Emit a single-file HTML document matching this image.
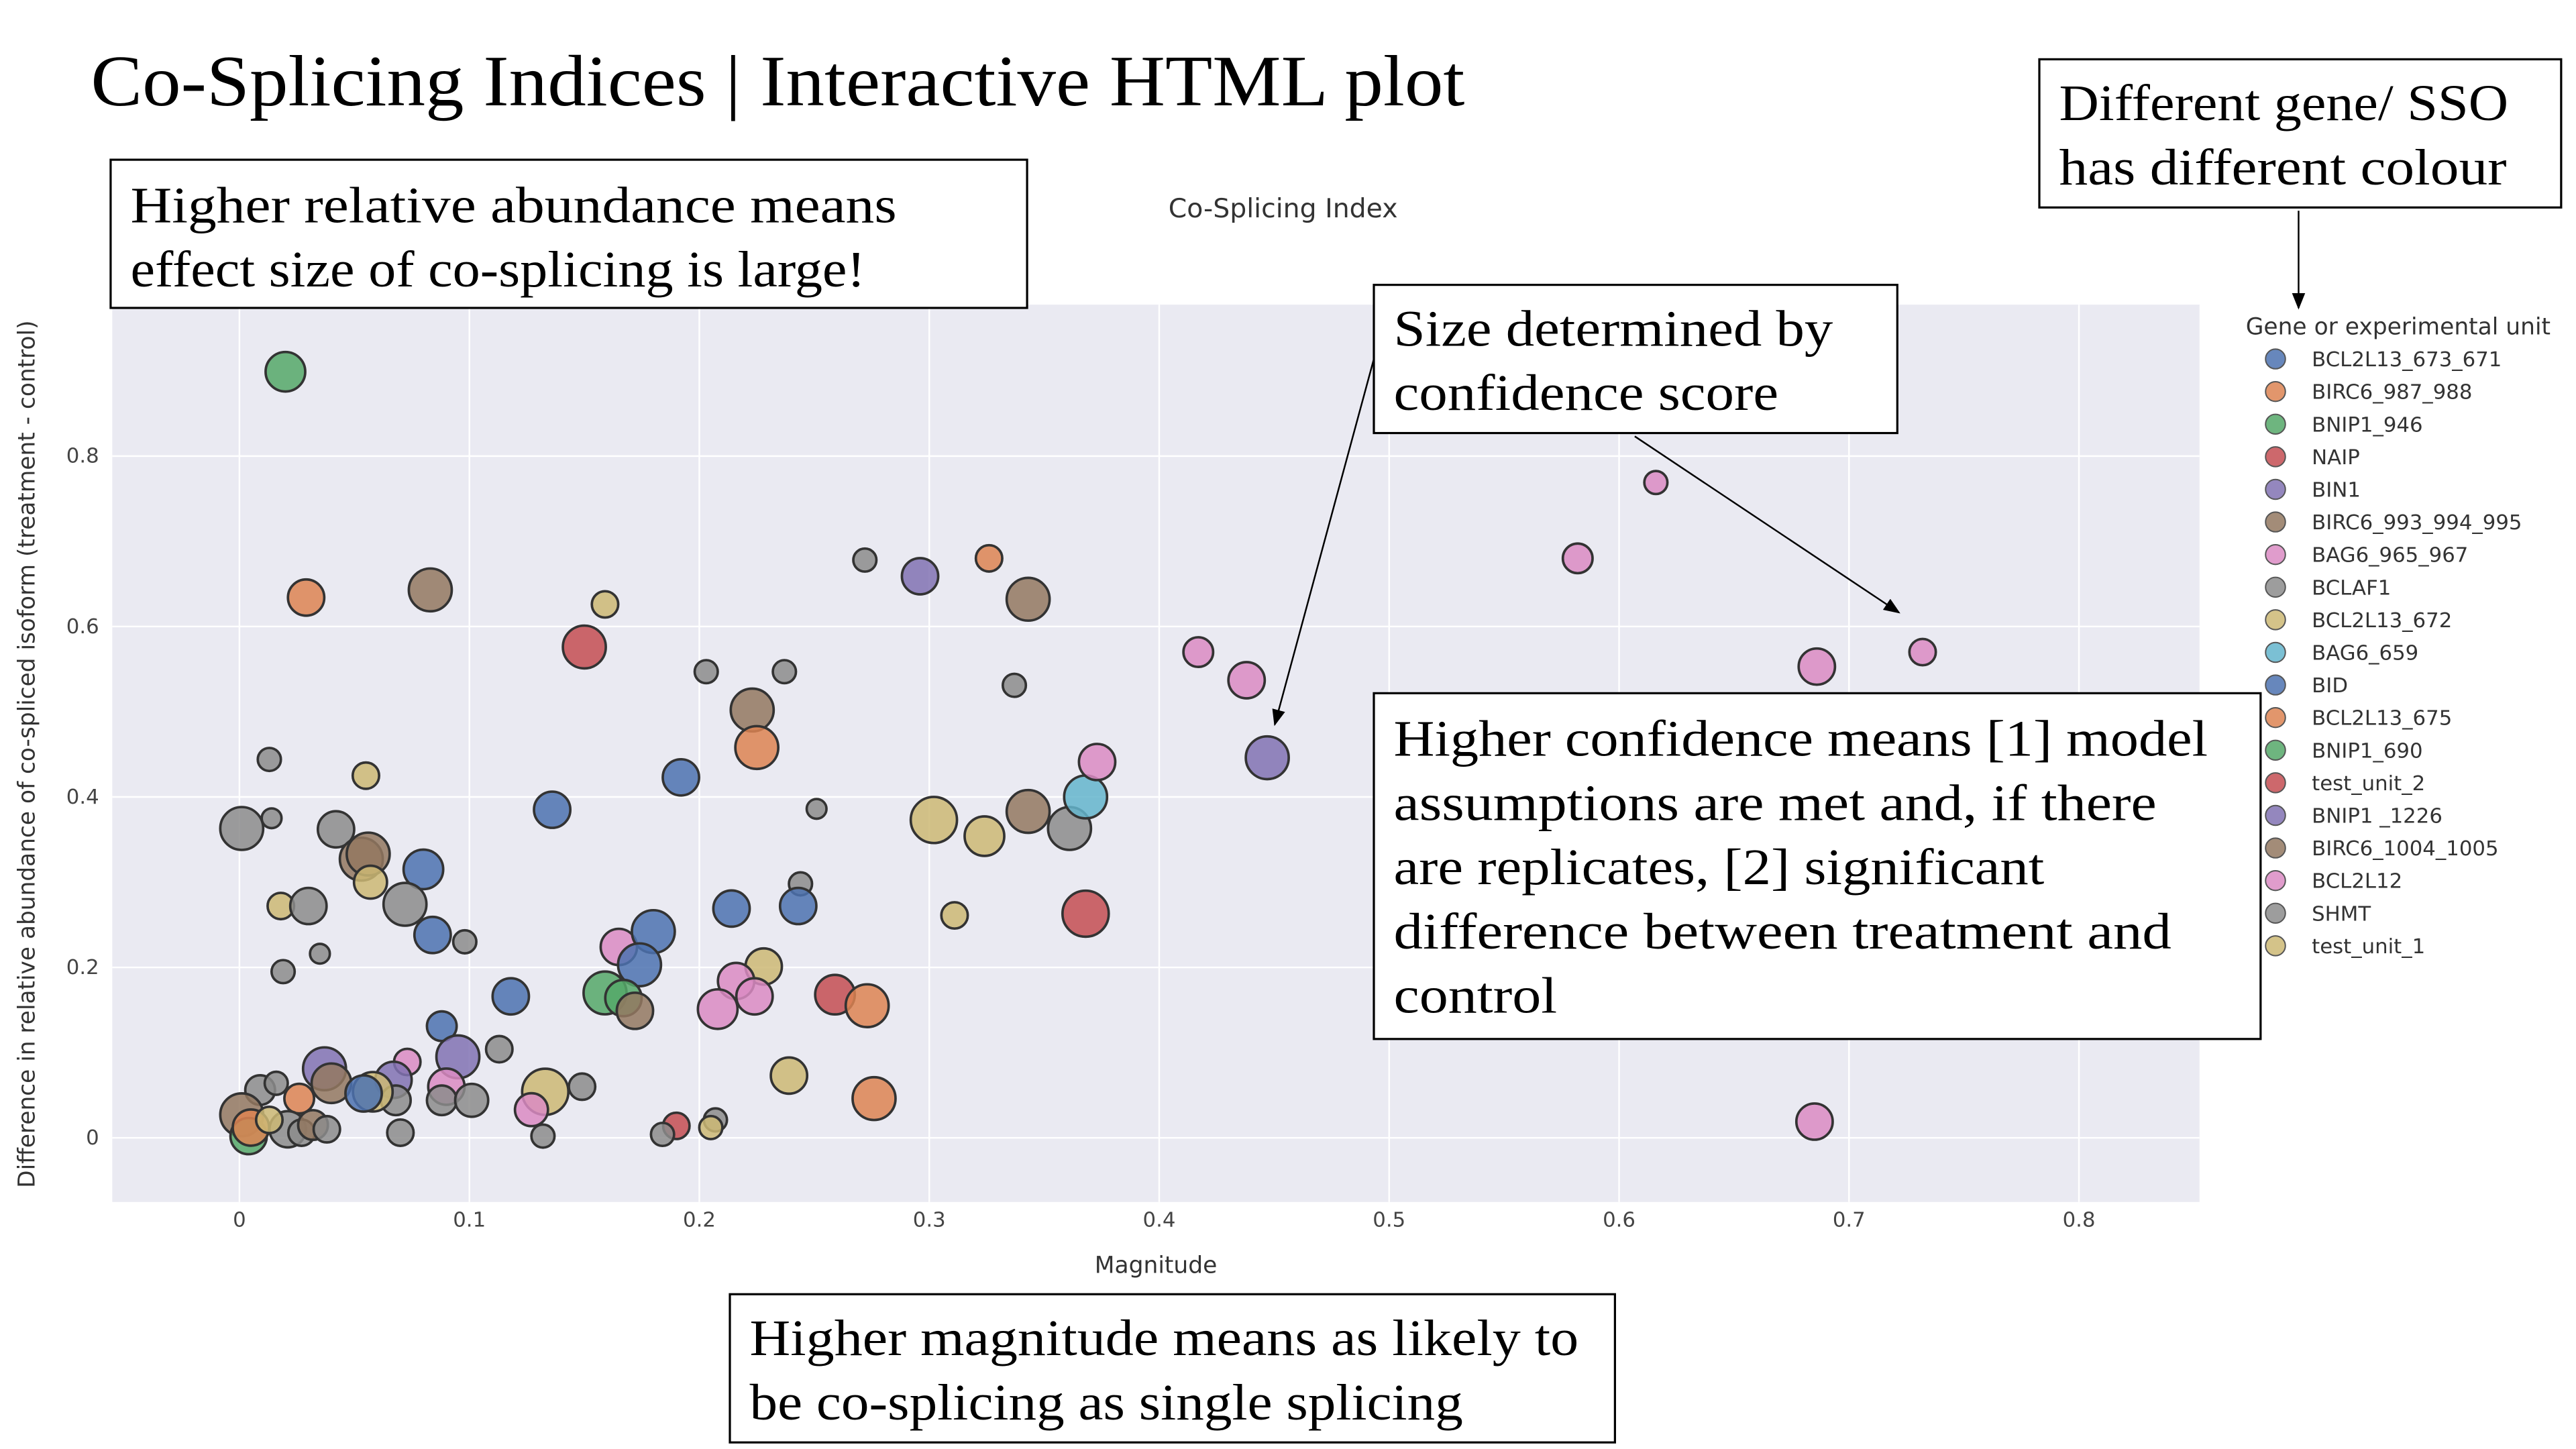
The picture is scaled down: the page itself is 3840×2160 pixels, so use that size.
<!DOCTYPE html>
<html><head><meta charset="utf-8"><style>
html,body{margin:0;padding:0;background:#fff;}
svg{display:block;}
.tk{font-family:"DejaVu Sans","Liberation Sans",sans-serif;font-size:12.5px;fill:#444;}
.serif{font-family:"Liberation Serif",serif;fill:#000;}
.lg{font-family:"DejaVu Sans","Liberation Sans",sans-serif;font-size:12.5px;fill:#333;}
</style></head><body>
<svg id="chart" width="3840" height="2160" viewBox="0 0 1560 880" preserveAspectRatio="none" xmlns="http://www.w3.org/2000/svg">
<defs><marker id="ah" markerWidth="10" markerHeight="10" refX="9" refY="5" orient="auto" markerUnits="userSpaceOnUse"><path d="M0,1 L10,5 L0,9 Z" fill="#000"/></marker></defs>
<text class="serif" x="55" y="64" font-size="44" textLength="832" lengthAdjust="spacingAndGlyphs">Co-Splicing Indices | Interactive HTML plot</text>
<text x="777" y="132" text-anchor="middle" font-family="DejaVu Sans, Liberation Sans, sans-serif" font-size="16" fill="#333">Co-Splicing Index</text>
<rect x="68" y="185" width="1264" height="545" fill="#EAEAF2"/>
<g id="grid"></g>
<g id="bubbles"></g>
<g id="xticks"></g>
<g id="yticks"></g>
<text x="700" y="773" text-anchor="middle" font-family="DejaVu Sans, Liberation Sans, sans-serif" font-size="14" fill="#333">Magnitude</text>
<text transform="translate(21,458) rotate(-90)" text-anchor="middle" font-family="DejaVu Sans, Liberation Sans, sans-serif" font-size="14" fill="#333">Difference in relative abundance of co-spliced isoform (treatment - control)</text>
<text x="1360" y="203" font-family="DejaVu Sans, Liberation Sans, sans-serif" font-size="14" fill="#333">Gene or experimental unit</text>
<g id="legend"></g>
<g>
<rect x="67" y="97" width="555" height="90" fill="#fff" stroke="#000" stroke-width="1.3"/>
<text class="serif" x="79" y="135" font-size="31" textLength="464" lengthAdjust="spacingAndGlyphs">Higher relative abundance means</text>
<text class="serif" x="79" y="174" font-size="31" textLength="445" lengthAdjust="spacingAndGlyphs">effect size of co-splicing is large!</text></g>
<g>
<rect x="1235" y="36" width="316" height="90" fill="#fff" stroke="#000" stroke-width="1.3"/>
<text class="serif" x="1247" y="73" font-size="31" textLength="272" lengthAdjust="spacingAndGlyphs">Different gene/ SSO</text>
<text class="serif" x="1247" y="112" font-size="31" textLength="271" lengthAdjust="spacingAndGlyphs">has different colour</text></g>
<line x1="1392" y1="128" x2="1392" y2="187" stroke="#000" stroke-width="1" marker-end="url(#ah)"/>
<g>
<rect x="832" y="173" width="317" height="90" fill="#fff" stroke="#000" stroke-width="1.3"/>
<text class="serif" x="844" y="210" font-size="31" textLength="266" lengthAdjust="spacingAndGlyphs">Size determined by</text>
<text class="serif" x="844" y="249" font-size="31" textLength="233" lengthAdjust="spacingAndGlyphs">confidence score</text></g>
<line x1="832" y1="218" x2="772" y2="440" stroke="#000" stroke-width="1" marker-end="url(#ah)"/>
<line x1="990" y1="265" x2="1150" y2="372" stroke="#000" stroke-width="1" marker-end="url(#ah)"/>
<g>
<rect x="832" y="421" width="537" height="210" fill="#fff" stroke="#000" stroke-width="1.3"/>
<text class="serif" x="844" y="459" font-size="31" textLength="493" lengthAdjust="spacingAndGlyphs">Higher confidence means [1] model</text>
<text class="serif" x="844" y="498" font-size="31" textLength="462" lengthAdjust="spacingAndGlyphs">assumptions are met and, if there</text>
<text class="serif" x="844" y="537" font-size="31" textLength="394" lengthAdjust="spacingAndGlyphs">are replicates, [2] significant</text>
<text class="serif" x="844" y="576" font-size="31" textLength="471" lengthAdjust="spacingAndGlyphs">difference between treatment and</text>
<text class="serif" x="844" y="615" font-size="31" textLength="99" lengthAdjust="spacingAndGlyphs">control</text></g>
<g>
<rect x="442" y="786" width="536" height="90" fill="#fff" stroke="#000" stroke-width="1.3"/>
<text class="serif" x="454" y="823" font-size="31" textLength="502" lengthAdjust="spacingAndGlyphs">Higher magnitude means as likely to</text>
<text class="serif" x="454" y="862" font-size="31" textLength="432" lengthAdjust="spacingAndGlyphs">be co-splicing as single splicing</text></g>
</svg>
<script>
const groups = ["BCL2L13_673_671","BIRC6_987_988","BNIP1_946","NAIP","BIN1","BIRC6_993_994_995","BAG6_965_967","BCLAF1","BCL2L13_672","BAG6_659","BID","BCL2L13_675","BNIP1_690","test_unit_2","BNIP1 _1226","BIRC6_1004_1005","BCL2L12","SHMT","test_unit_1"];
const palette = ["#4C72B0","#DD8452","#55A868","#C44E52","#8172B3","#937860","#DA8BC3","#8C8C8C","#CCB974","#64B5CD"];
const xTicks = [0,0.1,0.2,0.3,0.4,0.5,0.6,0.7,0.8];
const xTickLabels = ["0","0.1","0.2","0.3","0.4","0.5","0.6","0.7","0.8"];
const yTicks = [0,0.2,0.4,0.6,0.8];
const yTickLabels = ["0","0.2","0.4","0.6","0.8"];
const xs = [.020,.029,.083,.150,.159,.272,.296,.326,.343,.203,.237,.337,.223,.225,.192,.136,.055,.013,.014,.001,.042,.053,.056,.057,.080,.072,.018,.030,.084,.098,.035,.019,.165,.180,.174,.214,.244,.243,.251,.302,.324,.343,.361,.368,.373,.368,.311,.228,.216,.224,.208,.259,.273,.159,.167,.172,.118,.088,.095,.113,.073,.037,.040,.067,.068,.058,.054,.090,.088,.101,.133,.149,.127,.132,.190,.184,.207,.205,.239,.276,.009,.016,.001,.004,.005,.026,.021,.027,.032,.038,.013,.070,.447,.417,.438,.616,.582,.686,.732,.685];
const ys = [.899,.634,.643,.576,.626,.678,.659,.680,.632,.547,.547,.531,.502,.458,.423,.385,.425,.444,.375,.363,.362,.327,.333,.300,.315,.274,.272,.272,.238,.230,.216,.195,.224,.242,.203,.269,.298,.272,.386,.373,.354,.383,.363,.400,.441,.263,.261,.201,.184,.166,.151,.168,.155,.170,.164,.149,.166,.131,.095,.104,.089,.081,.064,.068,.044,.054,.052,.060,.044,.044,.054,.060,.033,.002,.014,.004,.021,.012,.073,.046,.056,.064,.027,.002,.012,.046,.010,.006,.015,.010,.021,.006,.446,.570,.537,.769,.680,.553,.570,.019];
const sizes = [12,11,13,13,8,7,11,8,13,7,7,7,13,13,11,11,8,7,6,13,11,13,13,10,12,13,8,11,11,7,6,7,11,13,13,11,7,11,6,14,12,13,13,13,11,14,8,11,11,11,12,12,13,13,11,11,11,9,13,8,8,13,12,11,9,12,11,11,9,10,14,8,10,7,8,7,7,7,11,13,9,7,13,11,11,9,11,8,9,8,8,8,13,9,11,7,9,11,8,11];
const colorIdx = [2,1,5,3,8,7,4,1,5,7,7,7,5,1,0,0,8,7,7,7,7,5,5,8,0,7,8,7,0,7,7,7,6,0,0,0,7,0,7,8,8,5,7,9,6,3,8,8,6,6,6,3,1,2,2,5,0,0,4,7,6,4,5,4,7,8,0,6,7,7,8,7,6,7,3,7,7,8,8,1,7,7,5,2,1,1,7,7,5,7,8,7,4,6,6,6,6,6,6,6];
const NS="http://www.w3.org/2000/svg";
const X0=68,X1=1332,Y0=185,Y1=730;
const xScale=v=>145+v*1392.5;
const yScale=v=>691-v*517.5;
const grid=document.getElementById('grid');
xTicks.forEach((t,i)=>{
  const l=document.createElementNS(NS,'line');
  
  
  l.setAttribute('x1',xScale(t));l.setAttribute('x2',xScale(t));l.setAttribute('y1',Y0);l.setAttribute('y2',Y1);
  l.setAttribute('stroke','#fff');l.setAttribute('stroke-width','1');grid.appendChild(l);
  const tx=document.createElementNS(NS,'text');
  
  
  tx.setAttribute('class','tk');tx.setAttribute('x',xScale(t));tx.setAttribute('y',745);tx.setAttribute('text-anchor','middle');
  tx.textContent=xTickLabels[i];document.getElementById('xticks').appendChild(tx);
});
yTicks.forEach((t,i)=>{
  const l=document.createElementNS(NS,'line');
  
  
  l.setAttribute('x1',X0);l.setAttribute('x2',X1);l.setAttribute('y1',yScale(t));l.setAttribute('y2',yScale(t));
  l.setAttribute('stroke','#fff');l.setAttribute('stroke-width','1');grid.appendChild(l);
  const tx=document.createElementNS(NS,'text');
  
  
  tx.setAttribute('class','tk');tx.setAttribute('x',60);tx.setAttribute('y',yScale(t)+4);tx.setAttribute('text-anchor','end');
  tx.textContent=yTickLabels[i];document.getElementById('yticks').appendChild(tx);
});
const bg=document.getElementById('bubbles');
xs.forEach((x,i)=>{
  const c=document.createElementNS(NS,'circle');
  
  
  c.setAttribute('cx',xScale(x));c.setAttribute('cy',yScale(ys[i]));c.setAttribute('r',sizes[i]);
  c.setAttribute('fill',palette[colorIdx[i]]);c.setAttribute('fill-opacity','0.85');
  c.setAttribute('stroke','#333');c.setAttribute('stroke-width','1.5');bg.appendChild(c);
});
const lg=document.getElementById('legend');
groups.forEach((g,i)=>{
  const y=218+i*19.8;
  const c=document.createElementNS(NS,'circle');
  
  
  c.setAttribute('cx',1378);c.setAttribute('cy',y);c.setAttribute('r',6);
  c.setAttribute('fill',palette[i%10]);c.setAttribute('fill-opacity','0.85');c.setAttribute('stroke','#555');c.setAttribute('stroke-width','0.8');
  lg.appendChild(c);
  const t=document.createElementNS(NS,'text');
  
  
  t.setAttribute('class','lg');t.setAttribute('x',1400);t.setAttribute('y',y+4.5);t.textContent=g;lg.appendChild(t);
});
</script>
</body></html>
